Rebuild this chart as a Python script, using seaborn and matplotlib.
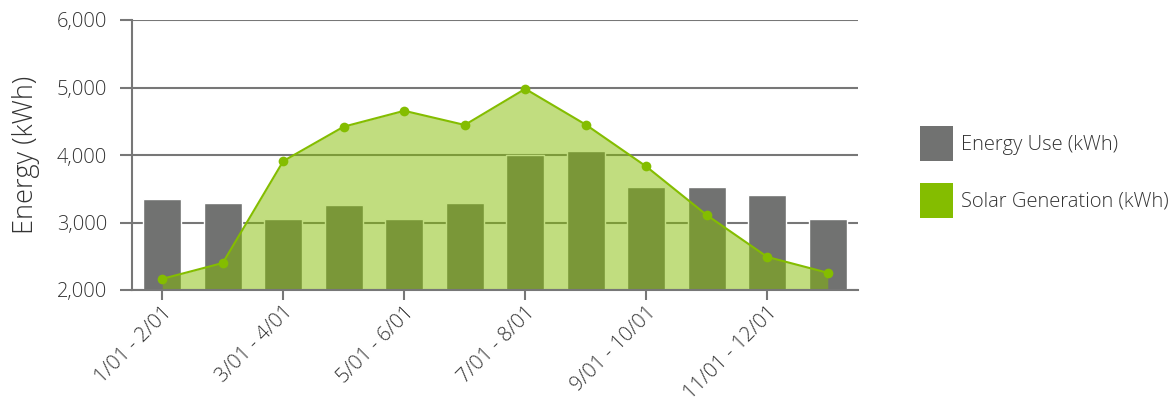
import numpy as np
import pandas as pd
import matplotlib
matplotlib.use("Agg")
import matplotlib.pyplot as plt
from matplotlib.patches import Patch
import seaborn as sns

categories = ["1/01 - 2/01", "2/01 - 3/01", "3/01 - 4/01", "4/01 - 5/01",
              "5/01 - 6/01", "6/01 - 7/01", "7/01 - 8/01", "8/01 - 9/01",
              "9/01 - 10/01", "10/01 - 11/01", "11/01 - 12/01", "12/01 - 1/01"]
energy_use = [3345, 3290, 3050, 3260, 3050, 3290, 4000, 4060, 3525, 3525, 3410, 3050]
solar_gen = [2165, 2400, 3910, 4420, 4655, 4445, 4980, 4450, 3830, 3110, 2490, 2255]
yticks = [2000, 3000, 4000, 5000, 6000]
ytick_labels = ["2,000", "3,000", "4,000", "5,000", "6,000"]

GRAY = "#717271"
GREEN = "#84bd00"
AXIS = "#777777"
TEXT = "#333333"

sns.set_theme(style="white")
plt.rcParams["font.family"] = ["Open Sans", "DejaVu Sans"]

df = pd.DataFrame({"period": categories, "use": energy_use, "solar": solar_gen})
xpos = np.arange(len(categories))

fig = plt.figure(figsize=(11.71, 4.04), dpi=100)
ax = fig.add_axes([132/1171, 1-290/404, (858-132)/1171, (290-20)/404])

sns.barplot(data=df, x="period", y="use", color=GRAY, saturation=1,
            width=0.63, ax=ax, zorder=2)
ax.fill_between(xpos, df["solar"], 0, color=GREEN, alpha=0.5, linewidth=0, zorder=3)
sns.lineplot(x=xpos, y=df["solar"], color=GREEN, linewidth=1.5, marker="o",
             markersize=7, markeredgewidth=0, ax=ax, zorder=4)

ax.set_ylim(2000, 6000)
ax.set_xlim(-0.5, len(categories) - 0.5)
ax.set_yticks(yticks)
ax.set_yticklabels(ytick_labels, fontsize=14.5, color=TEXT, fontweight="light")
ax.yaxis.grid(True, color=AXIS, linewidth=1.5, zorder=0)
ax.set_axisbelow(True)
ax.tick_params(axis="y", length=9, width=1.5, color=AXIS, direction="out", pad=9, left=True)

shown = xpos[::2]
ax.set_xticks(shown)
ax.set_xticklabels([categories[i] for i in shown], rotation=45, ha="right",
                   rotation_mode="anchor", fontsize=14.5, color=TEXT, fontweight="light")
ax.tick_params(axis="x", length=7, width=1.5, color=AXIS, direction="out", pad=2, bottom=True)

ax.set_xlabel("")
ax.set_ylabel("Energy (kWh)", fontsize=19.5, color=TEXT, fontweight="light", labelpad=12)

for s in ["top", "right"]:
    ax.spines[s].set_visible(False)
for s in ["left", "bottom"]:
    ax.spines[s].set_color(AXIS)
    ax.spines[s].set_linewidth(1.5)
    ax.spines[s].set_zorder(5)

handles = [Patch(facecolor=GRAY, edgecolor="none", label="Energy Use (kWh)"),
           Patch(facecolor=GREEN, edgecolor="none", label="Solar Generation (kWh)")]
leg = fig.legend(handles=handles, loc="center left", bbox_to_anchor=(920/1171, 1-172/404),
                 frameon=False, fontsize=14.5, handlelength=1.65, handleheight=2.3,
                 labelspacing=1.1, handletextpad=0.4, borderpad=0, borderaxespad=0)
for t in leg.get_texts():
    t.set_color(TEXT)
    t.set_fontweight("light")

fig.savefig("out.png", dpi=100)
